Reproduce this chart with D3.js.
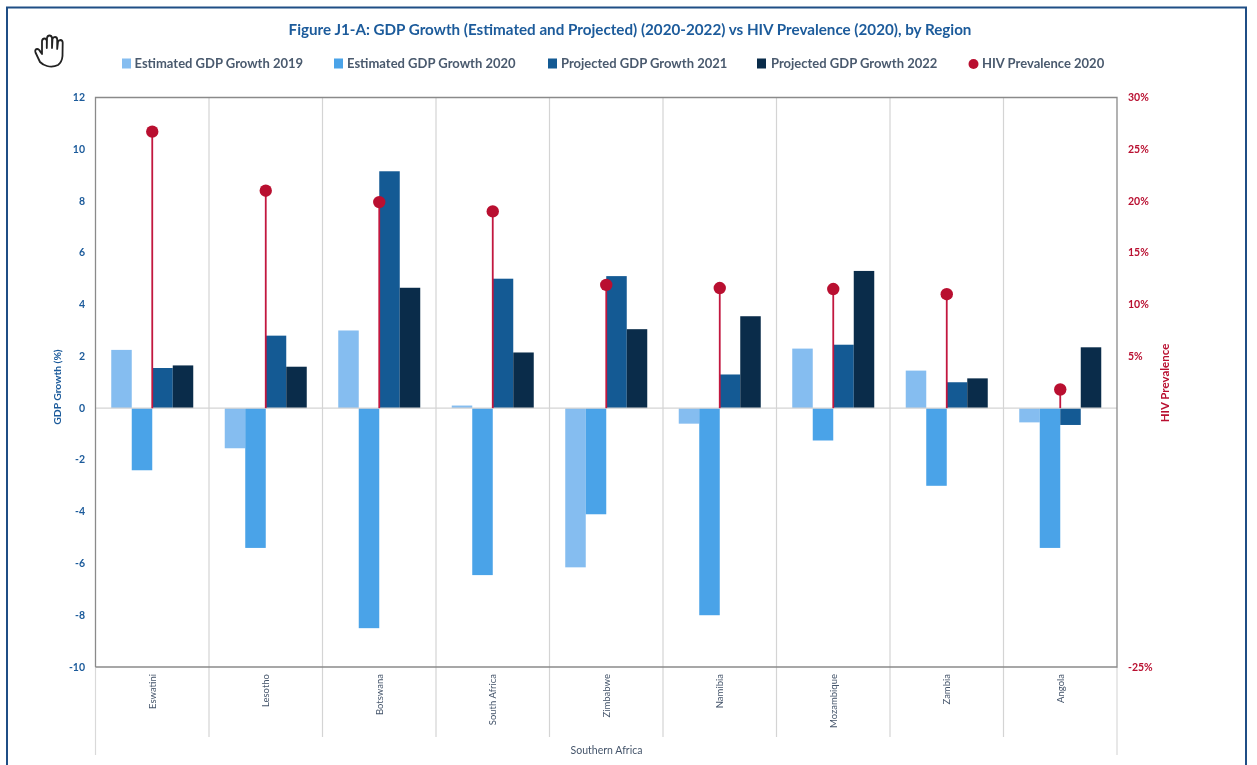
<!DOCTYPE html>
<html><head><meta charset="utf-8">
<script src="https://cdn.jsdelivr.net/npm/d3@7/dist/d3.min.js"></script>
<style>html,body{margin:0;padding:0;background:#fff}svg{display:block}text{font-family:Lato,"Open Sans",sans-serif}</style>
</head><body><svg id="c" width="1257" height="765"></svg>
<script>
const title="Figure J1-A: GDP Growth (Estimated and Projected) (2020-2022) vs HIV Prevalence (2020), by Region";
const regions=["Eswatini","Lesotho","Botswana","South Africa","Zimbabwe","Namibia","Mozambique","Zambia","Angola"];
const seriesNames=["Estimated GDP Growth 2019","Estimated GDP Growth 2020","Projected GDP Growth 2021","Projected GDP Growth 2022"];
const est2019=[2.25,-1.55,3.0,0.1,-6.15,-0.6,2.3,1.45,-0.55];
const est2020=[-2.4,-5.4,-8.5,-6.45,-4.1,-8.0,-1.25,-3.0,-5.4];
const proj2021=[1.55,2.8,9.15,5.0,5.1,1.3,2.45,1.0,-0.65];
const proj2022=[1.65,1.6,4.65,2.15,3.05,3.55,5.3,1.15,2.35];
const hiv2020=[26.7,21.0,19.9,19.0,11.9,11.6,11.5,11.0,1.8];
const leftTicks=[-10,-8,-6,-4,-2,0,2,4,6,8,10,12];
const rightTicks=[-25,5,10,15,20,25,30];
const barColors=["#85bdf0","#4aa3e8","#145a94","#0a2c4a"];
const hivColor="#b90f30", blue="#1c5b9b";

const svg=d3.select("#c");
const L=95.5,R=1117,T=97.5,B=667;
const all=[est2019,est2020,proj2021,proj2022];
const x=d3.scaleBand().domain(regions).range([L,R]);
const xs=d3.scaleBand().domain(d3.range(4)).range([0,82]);
const y=d3.scaleLinear().domain([-10,12]).range([B,T]);
const y2=d3.scaleLinear().domain([-25,30]).range([B,T]);
const g=svg.append("g").style("filter","blur(0.6px)");

g.append("rect").attr("x",7).attr("y",7.5).attr("width",1239).attr("height",780).attr("fill","none").attr("stroke","#1f4e85").attr("stroke-width",2);

// hand cursor
g.append("path").attr("transform","translate(34,34) scale(1.0)")
 .attr("d","M6 28 L1.5 18.5 Q0.5 15.5 3 15 Q5 14.8 6.5 18 L8 20 L8 7 Q8.5 4.5 10.5 4.5 Q12.5 4.5 12.8 7 L12.8 14 L13 4 Q13.5 1.5 15.5 1.5 Q17.6 1.5 18 4 L18 14 L18.5 5 Q19 3 21 3 Q23 3 23.2 5.5 L23.2 15 L24 8 Q24.6 6 26.5 6 Q28.5 6.2 28.7 8.5 L28.5 22 Q28 28 24 31 Q19 33.5 13 32 Q9 31 6 28 Z")
 .attr("fill","#fff").attr("stroke","#222").attr("stroke-width",1.8).attr("stroke-linejoin","round");

g.append("text").attr("x",630).attr("y",35).attr("text-anchor","middle").attr("font-size",15.2).attr("font-weight",700).attr("fill",blue).text(title);

// legend
const lx=[122,334,548,757],tx=[134.5,347,561,771];
seriesNames.forEach((n,i)=>{
 g.append("rect").attr("x",lx[i]).attr("y",58.5).attr("width",9).attr("height",10).attr("fill",barColors[i]);
 g.append("text").attr("x",tx[i]).attr("y",68).attr("font-size",13).attr("font-weight",700).attr("fill","#4a5a6e").text(n);
});
g.append("circle").attr("cx",973.5).attr("cy",64).attr("r",5).attr("fill",hivColor);
g.append("text").attr("x",982).attr("y",68).attr("font-size",13).attr("font-weight",700).attr("fill","#4a5a6e").text("HIV Prevalence 2020");

// grid separators
const seps=d3.range(1,9).map(i=>L+x.step()*i);
g.selectAll(".sep").data(seps).join("line").attr("x1",d=>d).attr("x2",d=>d).attr("y1",T).attr("y2",737).attr("stroke","#d4d4d4").attr("stroke-width",1.2);
[L,R].forEach(v=>g.append("line").attr("x1",v).attr("x2",v).attr("y1",B).attr("y2",755).attr("stroke","#d9d9d9").attr("stroke-width",1.2));

// bars
all.forEach((vals,s)=>{
 g.selectAll(".b"+s).data(vals).join("rect")
  .attr("x",(d,i)=>x(regions[i])+(x.bandwidth()-82)/2+xs(s))
  .attr("width",xs.bandwidth())
  .attr("y",d=>y(Math.max(0,d)))
  .attr("height",d=>Math.abs(y(d)-y(0)))
  .attr("fill",barColors[s]);
});

// zero line and frame
g.append("line").attr("x1",L).attr("x2",R).attr("y1",y(0)).attr("y2",y(0)).attr("stroke","#d4d4d4").attr("stroke-width",1.3);
g.append("path").attr("d",`M${L},${B}V${T}H${R}V${B}H${L}`).attr("fill","none").attr("stroke","#8a8a8a").attr("stroke-width",1.3);

// stems and dots
g.selectAll(".stem").data(hiv2020).join("line")
 .attr("x1",(d,i)=>x(regions[i])+x.bandwidth()/2).attr("x2",(d,i)=>x(regions[i])+x.bandwidth()/2)
 .attr("y1",y2(0)).attr("y2",d=>y2(d)).attr("stroke","#c2173f").attr("stroke-width",1.8);
g.selectAll(".dot").data(hiv2020).join("circle")
 .attr("cx",(d,i)=>x(regions[i])+x.bandwidth()/2).attr("cy",d=>y2(d)).attr("r",6.2).attr("fill",hivColor);

// axes
g.selectAll(".lt").data(leftTicks).join("text").attr("x",85).attr("y",d=>y(d)+3.5).attr("text-anchor","end")
 .attr("font-size",10.5).attr("font-weight",700).attr("fill",blue).text(d=>d);
g.selectAll(".rt").data(rightTicks).join("text").attr("x",1128).attr("y",d=>y2(d)+3.5)
 .attr("font-size",10.5).attr("font-weight",700).attr("fill",hivColor).text(d=>d+"%");
g.append("text").attr("transform","translate(61,387) rotate(-90)").attr("text-anchor","middle").attr("font-size",10.3).attr("font-weight",700).attr("fill",blue).text("GDP Growth (%)");
g.append("text").attr("transform","translate(1169,383) rotate(-90)").attr("text-anchor","middle").attr("font-size",11.5).attr("font-weight",700).attr("fill",hivColor).text("HIV Prevalence");

// category labels
g.selectAll(".cat").data(regions).join("text")
 .attr("transform",d=>`translate(${x(d)+x.bandwidth()/2+3.5},674) rotate(-90)`)
 .attr("text-anchor","end").attr("font-size",9.5).attr("fill","#44546a").text(d=>d);
g.append("text").attr("x",606.5).attr("y",754).attr("text-anchor","middle").attr("font-size",10.5).attr("fill","#44546a").text("Southern Africa");
</script></body></html>
